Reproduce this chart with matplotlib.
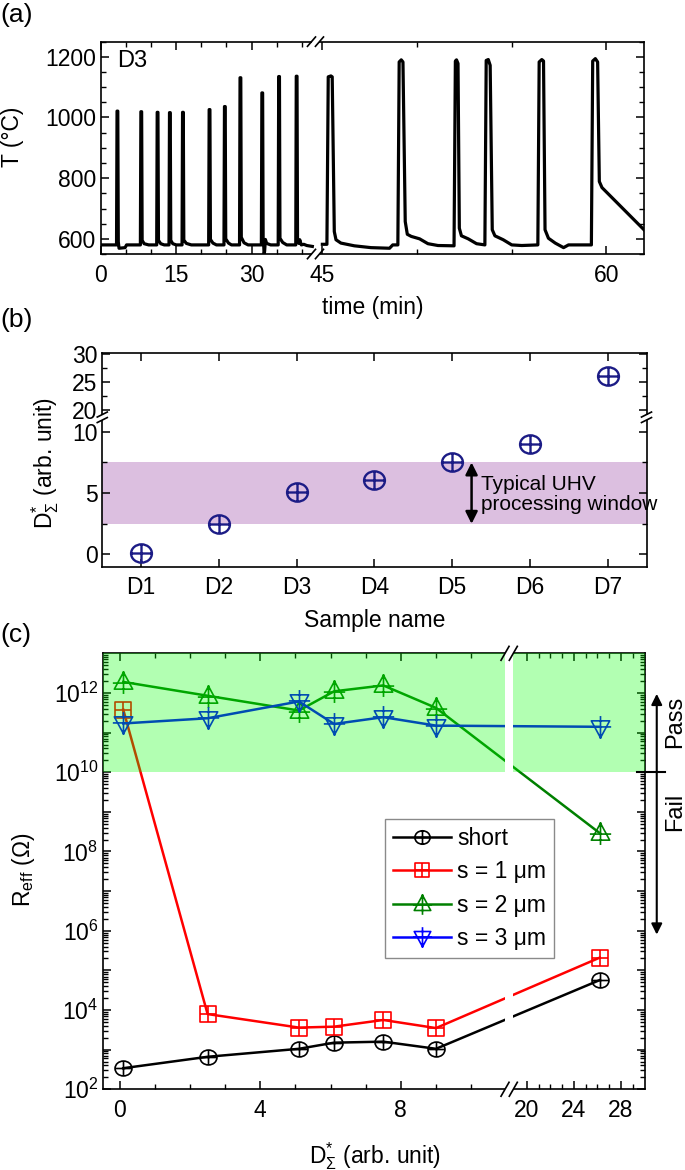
import numpy as np
import matplotlib
matplotlib.use('Agg')
import matplotlib.pyplot as plt
from matplotlib.path import Path
from matplotlib.patches import Rectangle
from matplotlib.transforms import blended_transform_factory

plt.rcParams['font.family'] = ['Liberation Sans', 'DejaVu Sans']
plt.rcParams['mathtext.fontset'] = 'custom'
plt.rcParams['mathtext.rm'] = 'Liberation Sans'
plt.rcParams['mathtext.it'] = 'Liberation Sans:italic'
plt.rcParams['mathtext.bf'] = 'Liberation Sans:bold'
plt.rcParams['mathtext.sf'] = 'Liberation Sans'

# ---- (a) temperature trace of sample D3
t_left = [0.0, 3.1, 3.2, 3.35, 3.45, 3.6, 4.8, 5.1,
          7.85, 7.95, 8.1, 8.2, 8.6, 9.5,
          11.1, 11.2, 11.35, 11.45, 11.9, 12.6,
          13.55, 13.65, 13.8, 13.9, 14.3, 15.0,
          16.15, 16.25, 16.4, 16.5, 17.0, 18.0,
          21.45, 21.55, 21.7, 21.8, 22.3, 23.0,
          24.5, 24.6, 24.75, 24.85, 25.4, 26.0,
          27.6, 27.7, 27.85, 27.95, 28.5, 29.3,
          31.95, 32.05, 32.2, 32.3, 32.4, 32.5, 32.6, 32.75, 33.0, 33.8,
          35.3, 35.4, 35.55, 35.65, 36.2, 37.0,
          38.8, 38.9, 39.05, 39.15, 39.4, 39.6, 39.9, 40.4, 41.0, 42.1]
T_left = [580, 580, 1021, 1021, 590, 569, 571, 580,
          580, 1019, 1019, 595, 584, 580,
          580, 1017, 1017, 595, 584, 580,
          580, 1016, 1016, 595, 584, 580,
          580, 1017, 1017, 596, 585, 580,
          580, 1026, 1026, 598, 586, 580,
          580, 1036, 1036, 600, 586, 580,
          580, 1131, 1131, 605, 587, 580,
          580, 1081, 1081, 605, 585, 548, 560, 598, 585, 580,
          580, 1135, 1135, 602, 588, 580,
          580, 1136, 1136, 600, 585, 597, 580, 582, 578, 575]
t_right = [45.0, 45.24, 45.31, 45.45, 45.52, 45.63, 45.72, 45.98, 46.69, 47.57, 48.55, 48.72, 48.99,
           49.06, 49.17, 49.26, 49.38, 49.49, 49.7, 50.14, 50.58, 51.11, 51.96,
           52.03, 52.09, 52.17, 52.24, 52.35, 52.71, 53.15, 53.59,
           53.66, 53.77, 53.87, 53.98, 54.12, 54.56, 55.01, 55.54, 56.39,
           56.46, 56.6, 56.69, 56.77, 56.95, 57.31, 57.75, 58.01, 59.22,
           59.29, 59.43, 59.55, 59.64, 59.78, 62.0]
T_right = [582, 582, 1134, 1137, 1134, 624, 597, 586, 577, 571, 569, 580, 580,
           1183, 1190, 1183, 657, 615, 608, 600, 584, 578, 577,
           1186, 1190, 1178, 635, 610, 600, 584, 580,
           1188, 1191, 1172, 630, 610, 597, 580, 578, 580,
           1183, 1191, 1186, 630, 602, 586, 571, 580, 580,
           1186, 1194, 1183, 789, 769, 630]
time_ticks = [0, 15, 30, 45, 60]
time_minor = [5, 10, 20, 25, 35, 40, 50, 55]
temp_ticks = [600, 800, 1000, 1200]

# ---- (b) defect measure per sample
samples = ['D1', 'D2', 'D3', 'D4', 'D5', 'D6', 'D7']
d_sum = [0.1, 2.5, 5.1, 6.1, 7.5, 9.0, 26.2]
uhv_window = [2.5, 7.5]
d_ticks = [0, 5, 10, 20, 25, 30]
d_minor = [2.5, 7.5, 22.5, 27.5]

# ---- (c) effective resistance vs D*
r_short = [340, 660, 1050, 1500, 1590, 1050, 5.7e4]
r_s1 = [3.8e11, 7.9e3, 3.6e3, 3.8e3, 5.6e3, 3.5e3, 2.1e5]
r_s2 = [1.9e12, 8.5e11, 3.6e11, 1.1e12, 1.55e12, 4.2e11, 2.9e8]
r_s3 = [1.7e11, 2.3e11, 6.1e11, 1.65e11, 2.45e11, 1.5e11, 1.4e11]
pass_level = 1e10
dc_ticks = [0, 4, 8, 20, 24, 28]
dc_minor = [1, 2, 3, 5, 6, 7, 9, 10, 21, 22, 23, 25, 26, 27, 29]
r_exp = list(range(2, 13))

FS = 16.5


def broken(k_in, k_out):
    return (lambda v: np.interp(v, k_in, k_out),
            lambda v: np.interp(v, k_out, k_in))


M, L, C = Path.MOVETO, Path.LINETO, Path.CLOSEPOLY


def cross(w=1.0, h=1.0, y0=0.0):
    return Path([(-w, y0), (w, y0), (0, -h), (0, h)], [M, L, M, L])


def circ_plus(r=0.88):
    c = Path.unit_circle()
    return Path.make_compound_path(Path(c.vertices * [1.0, r], c.codes), cross(1, r))


def square_plus():
    sq = Path([(-1, -1), (1, -1), (1, 1), (-1, 1), (-1, -1)], [M, L, L, L, C])
    return Path.make_compound_path(sq, cross())


def tri_plus(s=1):
    tri = Path([(0, 0.9 * s), (-0.8, -0.58 * s), (0.8, -0.58 * s), (0, 0.9 * s)], [M, L, L, C])
    return Path.make_compound_path(tri, cross(0.93, 1.0, -0.05 * s))


def slash(ax, xa, ya, dx, dy):
    ax.plot([xa - dx, xa + dx], [ya - dy, ya + dy], transform=ax.transAxes,
            color='k', lw=1.2, clip_on=False, zorder=21)


def gap(ax, x0, y0, w, h):
    ax.add_patch(Rectangle((x0, y0), w, h, transform=ax.transAxes, fc='white',
                           ec='none', clip_on=False, zorder=20))


def style(ax):
    ax.tick_params(which='both', direction='in', top=True, right=True, labelsize=FS)
    ax.tick_params(which='major', length=6, width=1.1)
    ax.tick_params(which='minor', length=3.5, width=1.0)
    for s in ax.spines.values():
        s.set_linewidth(1.2)


fig = plt.figure(figsize=(6.85, 11.7), dpi=100)

# ================= (a)
axa = fig.add_axes([0.1474, 0.7829, 0.7927, 0.1815])
axa.set_xscale('function', functions=broken([-100, 43, 45, 200],
                                            [-500, 215, 220.5, 220.5 + 155 * 18.84]))
axa.plot(t_left, T_left, color='k', lw=2.3, solid_joinstyle='round')
axa.plot(t_right, T_right, color='k', lw=2.3, solid_joinstyle='round')
axa.set_xlim(0, 62)
axa.set_ylim(550, 1250)
axa.set_xticks(time_ticks)
axa.set_xticks(time_minor, minor=True)
axa.set_yticks(temp_ticks)
axa.yaxis.set_minor_locator(matplotlib.ticker.MultipleLocator(50))
style(axa)
axa.tick_params(axis='x', pad=7)
axa.set_xlabel('time (min)', fontsize=FS)
axa.xaxis.set_label_coords(0.5, -0.198)
axa.set_ylabel('T (°C)', fontsize=FS)
axa.yaxis.set_label_coords(-0.142, 0.55)
axa.text(0.029, 0.96, 'D3', transform=axa.transAxes, fontsize=17, va='top', ha='left')
for yy in (0.0, 1.0):
    gap(axa, 0.389, yy - 0.02, 0.012, 0.04)
    slash(axa, 0.3877, yy, 0.0074, 0.022)
    slash(axa, 0.4024, yy, 0.0074, 0.022)

# ================= (b)
axb = fig.add_axes([0.1493, 0.5156, 0.7945, 0.1824])
axb.set_yscale('function', functions=broken([-100, 11.17, 18.7, 200],
                                            [-100, 11.17, 11.18, 11.18 + 181.3 * 0.4543]))
axb.axhspan(uhv_window[0], uhv_window[1], color='#dcbfe0', lw=0, zorder=0)
xs = np.arange(len(samples))
axb.plot(xs, d_sum, ls='none', marker=circ_plus(), ms=15, mfc='none', mec='#1c1c86', mew=1.7)
axb.annotate('', xy=(4.25, uhv_window[1]), xytext=(4.25, uhv_window[0]),
             arrowprops=dict(arrowstyle='<|-|>', color='k', lw=1.8, mutation_scale=18,
                             shrinkA=0, shrinkB=0))
axb.text(4.37, 4.9, 'Typical UHV\nprocessing window', fontsize=15, va='center', ha='left',
         linespacing=1.05)
axb.set_xlim(-0.5, 6.5)
axb.set_ylim(-1.0, 30.18)
axb.set_xticks(xs)
axb.set_xticklabels(samples)
axb.set_yticks(d_ticks)
axb.set_yticks(d_minor, minor=True)
style(axb)
axb.tick_params(axis='x', pad=7)
axb.set_xlabel('Sample name', fontsize=FS)
axb.xaxis.set_label_coords(0.5, -0.2)
axb.set_ylabel(r'$\mathregular{D_{\Sigma}^{*}}$ (arb. unit)', fontsize=FS)
axb.yaxis.set_label_coords(-0.076, 0.486)
for xx in (0.0, 1.0):
    gap(axb, xx - 0.012, 0.6874, 0.024, 0.0258)
    slash(axb, xx, 0.7132, 0.0092, 0.0117)
    slash(axb, xx, 0.6874, 0.0092, 0.0117)

# ================= (c)
axc = fig.add_axes([0.1507, 0.0690, 0.7902, 0.3726])
axc.set_xscale('function', functions=broken([-100, 11.05, 18.7, 200],
                                            [-100, 11.05, 11.15, 11.15 + 181.3 * 0.3349]))
axc.set_yscale('log')
series = [
    (r_short, 'k', circ_plus(), 12.2, 'short'),
    (r_s1, '#ff0000', square_plus(), 11.3, 's = 1 μm'),
    (r_s2, '#008000', tri_plus(1), 16.5, 's = 2 μm'),
    (r_s3, '#0000ff', tri_plus(-1), 16.5, 's = 3 μm'),
]
for vals, col, mk, ms, lab in series:
    axc.plot(d_sum, vals, color=col, lw=1.8, marker=mk, ms=ms, mfc='none', mec=col,
             mew=1.2, label=lab)
axc.axhspan(pass_level, 1e13, color=(0, 1, 0), alpha=0.3, lw=0, zorder=10)
axc.add_patch(Rectangle((0.7423, -0.012), 0.0153, 1.024, transform=axc.transAxes,
                        fc='white', ec='none', clip_on=False, zorder=11))
for yy in (0.0, 1.0):
    slash(axc, 0.7423, yy, 0.0074, 0.016)
    slash(axc, 0.7576, yy, 0.0074, 0.016)
axc.set_xlim(-0.47, 30)
axc.set_ylim(1e2, 1e13)
axc.set_xticks(dc_ticks)
axc.set_xticks(dc_minor, minor=True)
axc.set_yticks([10.0 ** e for e in r_exp])
axc.set_yticklabels([r'$\mathregular{10^{%d}}$' % e if e % 2 == 0 else '' for e in r_exp])
axc.yaxis.set_minor_locator(matplotlib.ticker.LogLocator(base=10, subs=np.arange(2, 10), numticks=30))
axc.yaxis.set_minor_formatter(matplotlib.ticker.NullFormatter())
style(axc)
axc.tick_params(axis='x', pad=7)
axc.set_xlabel(r'$\mathregular{D_{\Sigma}^{*}}$ (arb. unit)', fontsize=FS)
axc.xaxis.set_label_coords(0.503, -0.117)
axc.set_ylabel(r'$\mathregular{R_{eff}}$ (Ω)', fontsize=FS)
axc.yaxis.set_label_coords(-0.122, 0.503)
leg = axc.legend(loc='upper left', bbox_to_anchor=(0.5206, 0.62), borderaxespad=0,
                 fontsize=FS, handlelength=2.55, handletextpad=0.25, labelspacing=0.45,
                 borderpad=0.35, fancybox=False, framealpha=1, edgecolor='#8a8a8a',
                 markerscale=0.9)
leg.get_frame().set_linewidth(1.0)
leg.set_zorder(12)

tr = blended_transform_factory(axc.transAxes, axc.transData)
axc.annotate('', xy=(1.0226, 9.5e11), xytext=(1.0226, 8e5), xycoords=tr, textcoords=tr,
             arrowprops=dict(arrowstyle='<|-|>', color='k', lw=1.5, mutation_scale=16,
                             shrinkA=0, shrinkB=0), annotation_clip=False)
axc.plot([0.986, 1.038], [pass_level, pass_level], transform=tr, color='k', lw=1.5,
         clip_on=False, zorder=12)
axc.text(1.0563, 10 ** 11.28, 'Pass', transform=tr, rotation=90, fontsize=17,
         ha='center', va='center')
axc.text(1.0563, 10 ** 9.01, 'Fail', transform=tr, rotation=90, fontsize=17,
         ha='center', va='center')

fig.text(0.0, 1 - 15 / 1170, '(a)', fontsize=19, va='center', ha='left')
fig.text(0.0, 1 - 320 / 1170, '(b)', fontsize=19, va='center', ha='left')
fig.text(0.0, 1 - 635 / 1170, '(c)', fontsize=19, va='center', ha='left')

fig.savefig('out.png', dpi=100)
